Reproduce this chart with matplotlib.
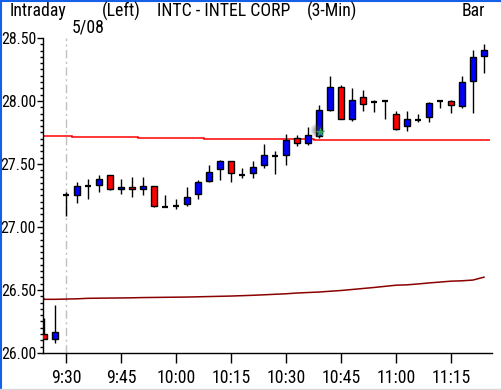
import numpy as np
import matplotlib
matplotlib.use("Agg")
import matplotlib.pyplot as plt
from matplotlib.patches import Rectangle
from matplotlib.lines import Line2D
from matplotlib import font_manager as fm

# ---------------- data ----------------
# bar index: -2, -1 = previous session (5/07), 0 = 9:30 on 5/08, 3-minute bars
bar_idx = list(range(-2, 39))
opens = [26.15, 26.115,
         27.25, 27.25, 27.325, 27.33, 27.41, 27.30, 27.32, 27.30, 27.325, 27.16,
         27.17, 27.18, 27.26, 27.365, 27.46, 27.52, 27.415, 27.425, 27.49, 27.565,
         27.57, 27.71, 27.665, 27.72, 27.925, 28.115, 27.855, 28.03, 27.99, 28.00,
         27.90, 27.80, 27.85, 27.87, 28.00, 28.00, 27.96, 28.155, 28.355]
highs = [26.28, 26.38,
         27.28, 27.355, 27.38, 27.41, 27.41, 27.38, 27.40, 27.40, 27.325, 27.25,
         27.22, 27.32, 27.37, 27.49, 27.53, 27.52, 27.47, 27.52, 27.66, 27.60,
         27.74, 27.73, 27.79, 27.965, 28.20, 28.13, 28.10, 28.085, 28.005, 28.005,
         27.92, 27.92, 27.90, 27.99, 28.01, 28.005, 28.20, 28.405, 28.45]
lows = [26.11, 26.08,
        27.09, 27.19, 27.22, 27.28, 27.29, 27.26, 27.235, 27.25, 27.16, 27.155,
        27.14, 27.17, 27.22, 27.355, 27.37, 27.36, 27.39, 27.39, 27.47, 27.42,
        27.49, 27.64, 27.65, 27.71, 27.92, 27.855, 27.84, 27.92, 27.91, 27.86,
        27.77, 27.765, 27.83, 27.835, 27.945, 27.905, 27.945, 27.905, 28.22]
closes = [26.115, 26.165,
          27.25, 27.325, 27.325, 27.38, 27.30, 27.32, 27.30, 27.325, 27.17, 27.16,
          27.17, 27.24, 27.36, 27.44, 27.52, 27.425, 27.415, 27.48, 27.575, 27.565,
          27.69, 27.67, 27.73, 27.93, 28.115, 27.86, 28.01, 27.975, 27.99, 28.00,
          27.775, 27.86, 27.85, 27.985, 28.00, 27.965, 28.15, 28.35, 28.405]

# upper (red) reference line, one value per bar
upper_line = [27.720, 27.720, 27.720,
              27.712, 27.712, 27.712, 27.712, 27.712, 27.712,
              27.704, 27.704, 27.704, 27.704, 27.704, 27.704,
              27.696, 27.696, 27.696, 27.696, 27.696, 27.696, 27.696, 27.696, 27.696, 27.696,
              27.688, 27.688, 27.688, 27.688, 27.688, 27.688, 27.688, 27.688,
              27.688, 27.688, 27.688, 27.688, 27.688, 27.688, 27.688, 27.688]

# lower (dark red) moving line, one value per bar
lower_line = [26.426, 26.426,
              26.428, 26.430, 26.434, 26.435, 26.436, 26.437, 26.438, 26.440, 26.441, 26.442,
              26.443, 26.444, 26.446, 26.448, 26.450, 26.452, 26.455, 26.458, 26.462, 26.466,
              26.470, 26.476, 26.480, 26.484, 26.490, 26.496, 26.504, 26.512, 26.520, 26.529,
              26.538, 26.541, 26.548, 26.556, 26.563, 26.570, 26.573, 26.579, 26.602]

tick_pos = [0, 5, 10, 15, 20, 25, 30, 35]
tick_labels = ["9:30", "9:45", "10:00", "10:15", "10:30", "10:45", "11:00", "11:15"]
y_ticks = [26.00, 26.50, 27.00, 27.50, 28.00, 28.50]
session_start = 0
date_label = "5/08"
marker_bar = 23
marker_price = 27.757

# ---------------- font: prefer a narrow face ----------------
def pick_font():
    pref = ["Liberation Sans Narrow", "Roboto Condensed", "Open Sans Condensed",
            "Noto Sans Condensed", "DejaVu Sans Condensed"]
    cands = []
    for f in fm.fontManager.ttflist:
        st = str(f.stretch).lower()
        w = f.weight
        normal_w = w in (400, "normal", "regular", "book")
        if f.style != "normal" or not normal_w:
            continue
        narrow = ("narrow" in f.name.lower() or "condensed" in f.name.lower()
                  or "condensed" in st or "narrow" in st
                  or (st.isdigit() and int(st) < 500))
        if narrow:
            rank = pref.index(f.name) if f.name in pref else len(pref)
            if f.name == "DejaVu Sans":
                rank = len(pref) - 1
            cands.append((rank, f.fname))
    if cands:
        cands.sort()
        return cands[0][1]
    return None

FPATH = pick_font()

def fprop(size_narrow, size_wide):
    if FPATH:
        p = fm.FontProperties(fname=FPATH)
        p.set_size(size_narrow)
    else:
        p = fm.FontProperties(family="DejaVu Sans")
        p.set_size(size_wide)
    return p

FP = fprop(12.8, 9.3)      # header and x labels
FPY = fprop(11.4, 9.0)     # y labels (tight left margin)
plt.rcParams["lines.scale_dashes"] = False

W, H = 501, 390
fig = plt.figure(figsize=(W / 100, H / 100), dpi=100)
fig.patch.set_facecolor("white")

ax_l, ax_r, ax_b, ax_t = 43, 492, 353, 2
ax = fig.add_axes([ax_l / W, (H - ax_b) / H, (ax_r - ax_l) / W, (ax_b - ax_t) / H])
px_per_unit = 126.0
ax.set_ylim(26.0, 26.0 + (ax_b - ax_t) / px_per_unit)
ax.set_xlim((ax_l - 66) / 11.0, (ax_r - 66) / 11.0)
ax.set_facecolor("white")

for s in ["top", "right"]:
    ax.spines[s].set_visible(False)
ax.spines["left"].set_bounds(26.0, 28.5)
for s in ["left", "bottom"]:
    ax.spines[s].set_linewidth(1.0)

ax.set_yticks(y_ticks)
ax.set_yticklabels([f"{v:.2f}" for v in y_ticks], fontproperties=FPY)
ax.set_yticks(np.arange(26.0, 28.5001, 0.05), minor=True)
ax.tick_params(axis="y", which="major", length=4, width=1, pad=1.0, direction="out")
ax.tick_params(axis="y", which="minor", length=2.5, width=1, direction="out")
ax.set_xticks(tick_pos)
ax.set_xticklabels(tick_labels, fontproperties=FP)
ax.tick_params(axis="x", which="major", length=7.2, width=1, pad=4, direction="out")

# session divider
ax.plot([session_start, session_start], [26.0, 28.5], color="#c0c0c0", lw=1.0,
        linestyle=(0, (6, 2.5, 1.5, 2.5)), zorder=1)

# reference lines
edges = np.arange(bar_idx[0] - 0.5, bar_idx[-1] + 1.0, 1.0)
edges[0] = ax.get_xlim()[0]
ax.stairs(upper_line, edges, baseline=None, color="#ff0000", lw=1.1, zorder=2)
ax.plot(bar_idx, lower_line, color="#8b0000", lw=1.1, zorder=2)
ax.plot([ax.get_xlim()[0], bar_idx[0]], [lower_line[0], lower_line[0]],
        color="#8b0000", lw=1.1, zorder=2)

# candles
bw = 0.5
for i, o, h, l, c in zip(bar_idx, opens, highs, lows, closes):
    ax.plot([i, i], [l, h], color="black", lw=1.0, zorder=3, solid_capstyle="butt")
    if abs(c - o) < 1e-9:
        ax.plot([i - 0.27, i + 0.27], [c, c], color="black", lw=1.6, zorder=4,
                solid_capstyle="butt")
    else:
        col = "#0000ff" if c > o else "#ff0000"
        ax.add_patch(Rectangle((i - bw / 2, min(o, c)), bw, abs(c - o),
                               facecolor=col, edgecolor="black", lw=1.0, zorder=4))

# green marker with soft shadow
for r, a in [(110, 0.10), (70, 0.15), (35, 0.25)]:
    ax.scatter([marker_bar - 0.2], [marker_price + 0.01], s=r, color="#444444",
               alpha=a, lw=0, zorder=5)
ax.scatter([marker_bar + 0.05], [marker_price], s=55, marker="*", color="#2e9e5a",
           lw=0, zorder=6)

# header texts
def ftext(x, y, s, **kw):
    fig.text(x / W, 1 - y / H, s, fontproperties=FP, va="center", **kw)

ftext(10, 11, "Intraday")
ftext(102, 11, "(Left)")
ftext(157, 11, "INTC - INTEL CORP")
ftext(307, 11, "(3-Min)")
ftext(462, 11, "Bar")
ftext(72, 28, date_label)

# window borders
fig.add_artist(Line2D([0, 1], [1 - 0.5 / H, 1 - 0.5 / H], transform=fig.transFigure,
                      color="#1560e8", lw=1.5))
fig.add_artist(Line2D([0.5 / W, 0.5 / W], [0, 1], transform=fig.transFigure,
                      color="#1560e8", lw=1.5))
fig.add_artist(Line2D([0, 1], [1.0 / H, 1.0 / H], transform=fig.transFigure,
                      color="#d8d8d8", lw=1.0))

fig.savefig("out.png", dpi=100, facecolor="white")
